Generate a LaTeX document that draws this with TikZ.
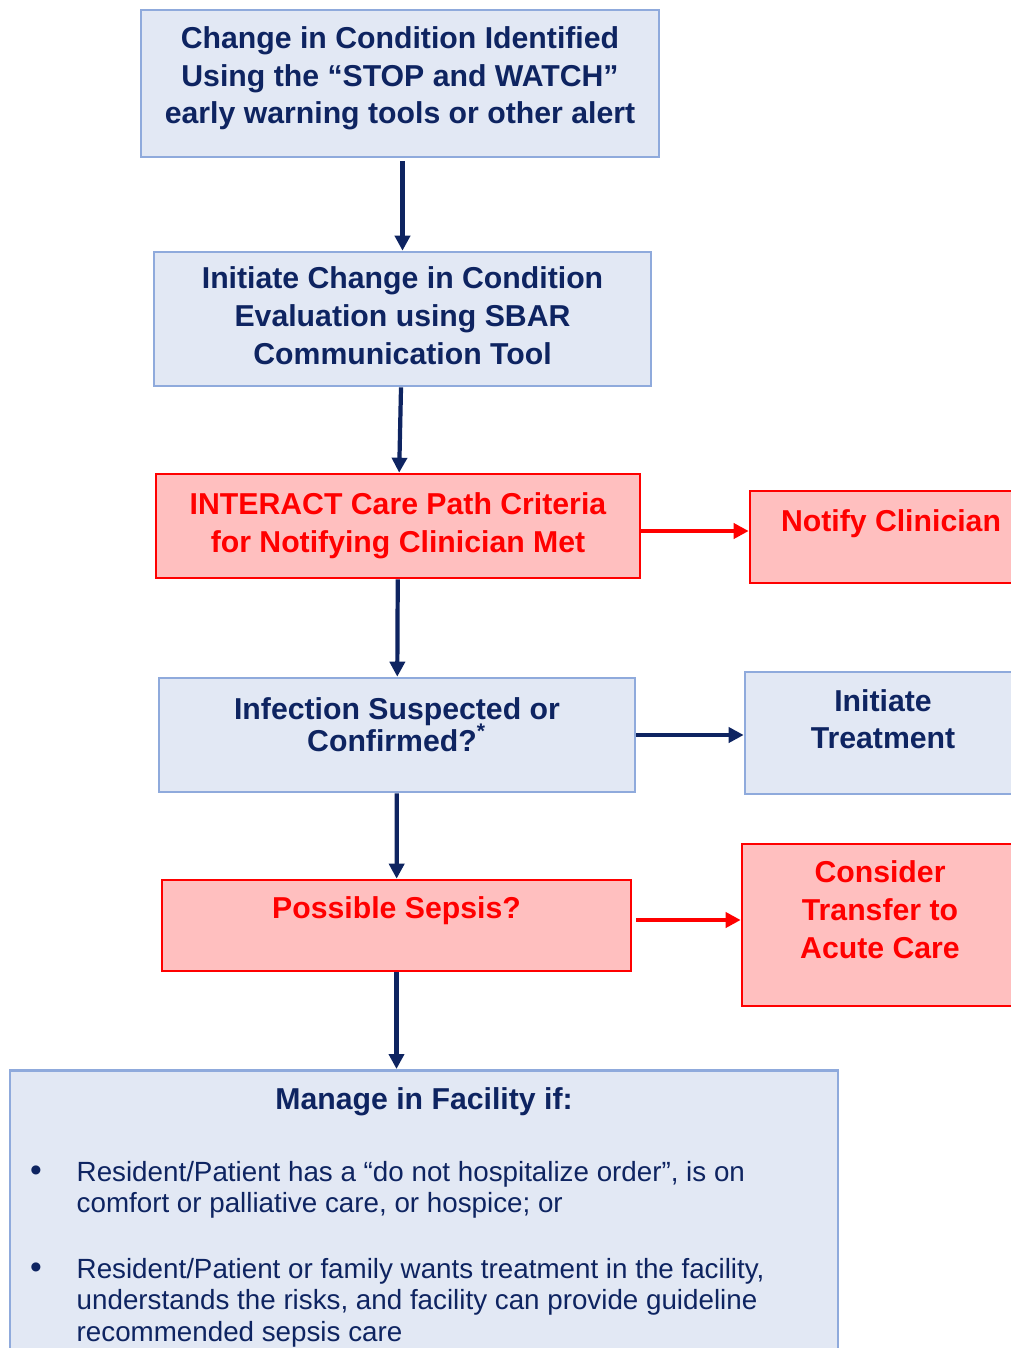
\documentclass[tikz,border=0pt]{standalone}
\usepackage{fontspec}
\setmainfont{Liberation Sans}
\usetikzlibrary{arrows.meta}

\definecolor{navy}{HTML}{0E2461}
\definecolor{boxblue}{HTML}{8FAADC}
\definecolor{fillblue}{HTML}{E2E8F4}
\definecolor{alertred}{HTML}{FF0000}
\definecolor{fillred}{HTML}{FFBFBF}

% lift the lines inside a box without changing its size
\newcommand{\boxtext}[2]{\raisebox{#1}[\height][\depth]{\begin{tabular}{@{}c@{}}#2\end{tabular}}}

\tikzset{
  bluebox/.style={draw=boxblue, fill=fillblue, line width=0.75pt, text=navy, inner sep=0pt,
    font=\bfseries\fontsize{8.6}{10.7}\selectfont},
  redbox/.style={bluebox, draw=alertred, fill=fillred, text=alertred},
  flow/.style={-{Triangle[length=0.15cm, width=0.15cm]}, navy, line width=1.2pt},
  redflow/.style={flow, alertred, line width=1.4pt},
  itemtext/.style={anchor=base west, inner sep=0pt, text=navy, font=\fontsize{7.9}{9.1}\selectfont}
}

\begin{document}
\begin{tikzpicture}
    \useasboundingbox (0, 0) rectangle (10.11, -13.48);
    \node[bluebox, minimum width = 5.18cm, minimum height = 1.47cm] (condition) at (4.00, -0.835)
      {\boxtext{0.05cm}{Change in Condition Identified \\ Using the “STOP and WATCH” \\ early warning tools or other alert}};
    \node[bluebox, minimum width = 4.97cm, minimum height = 1.34cm] (sbar) at (4.025, -3.19)
      {\boxtext{0cm}{Initiate Change in Condition \\ Evaluation using SBAR \\ Communication Tool}};
    \node[redbox, minimum width = 4.84cm, minimum height = 1.04cm] (criteria) at (3.98, -5.26)
      {\boxtext{0cm}{INTERACT Care Path Criteria \\ for Notifying Clinician Met}};
    \node[redbox, minimum width = 2.82cm, minimum height = 0.92cm] (notify) at (8.91, -5.37)
      {\boxtext{0.13cm}{Notify Clinician}};
    \node[bluebox, minimum width = 4.76cm, minimum height = 1.14cm] (infection) at (3.97, -7.35)
      {\boxtext{0.07cm}{Infection Suspected or \\[-0.05cm] Confirmed?\smash{\textsuperscript{*}}}};
    \node[bluebox, minimum width = 2.76cm, minimum height = 1.22cm] (treatment) at (8.83, -7.33)
      {\boxtext{0.105cm}{Initiate \\ Treatment}};
    \node[redbox, minimum width = 4.69cm, minimum height = 0.91cm] (sepsis) at (3.965, -9.255)
      {\boxtext{0.145cm}{Possible Sepsis?}};
    \node[redbox, minimum width = 2.76cm, minimum height = 1.62cm] (transfer) at (8.80, -9.25)
      {\boxtext{0.12cm}{Consider \\ Transfer to \\ Acute Care}};
    \node[bluebox, anchor = north, minimum width = 8.28cm, minimum height = 3.2cm] (manage) at (4.24, -10.69) {};
    \node[anchor = base, inner sep = 0pt, text = navy, font = \bfseries\fontsize{8.6}{10.7}\selectfont]
      (manage title) at (4.24, -11.09) {Manage in Facility if:};
    \node[itemtext, anchor = base, font = \fontsize{9.5}{9.1}\selectfont] (dot one) at (0.36, -11.81) {\textbullet};
    \node[itemtext] (item one) at (0.76, -11.81)
      {\begin{tabular}[t]{@{}l@{}}Resident/Patient has a “do not hospitalize order”, is on \\ comfort or palliative care, or hospice; or\end{tabular}};
    \node[itemtext, anchor = base, font = \fontsize{9.5}{9.1}\selectfont] (dot two) at (0.36, -12.78) {\textbullet};
    \node[itemtext] (item two) at (0.76, -12.78)
      {\begin{tabular}[t]{@{}l@{}}Resident/Patient or family wants treatment in the facility, \\ understands the risks, and facility can provide guideline \\ recommended sepsis care\end{tabular}};
    \draw[flow, shorten < = 0.03cm] (condition.south -| sbar.north) -- (sbar.north);
    \draw[flow] (sbar) -- (criteria);
    \draw[flow] (criteria) -- (infection);
    \draw[flow] (infection) -- (sepsis);
    \draw[flow] (sepsis) -- (sepsis.south |- manage.north);
    \draw[redflow] (criteria.east |- 0,-5.31) -- (notify.west |- 0,-5.31);
    \draw[flow] (infection.east) -- (infection.east -| treatment.west);
    \draw[redflow, shorten < = 0.04cm] (sepsis.east |- 0,-9.20) -- (transfer.west |- 0,-9.20);
  \end{tikzpicture}
\end{document}
